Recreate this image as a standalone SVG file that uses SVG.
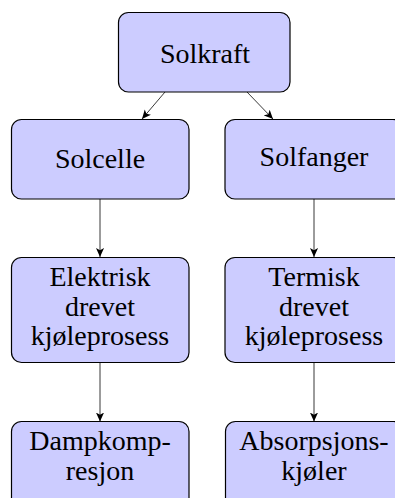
<svg xmlns="http://www.w3.org/2000/svg" width="395" height="498" viewBox="0 0 395 498" font-family="Liberation Serif" font-size="28">
<style>
.box{fill:#ccccff;stroke:#000;stroke-width:1.2}
.t{fill:#000;text-anchor:middle}
.c{stroke:#222;stroke-width:0.9;fill:none;marker-end:url(#ah)}
</style>
<defs>
<marker id="ah" viewBox="0 0 10 10" refX="10" refY="5" markerWidth="9" markerHeight="9" markerUnits="userSpaceOnUse" orient="auto">
<path d="M0,0.5 L10,5 L0,9.5 L2.5,5 Z" fill="#000"/>
</marker>
</defs>
<g id="connectors">
<line class="c" x1="165" y1="92" x2="142" y2="119"/>
<line class="c" x1="247" y1="92" x2="273" y2="119"/>
<line class="c" x1="100" y1="199" x2="100" y2="257"/>
<line class="c" x1="314" y1="199" x2="314" y2="257"/>
<line class="c" x1="100" y1="363" x2="100" y2="421.5"/>
<line class="c" x1="314" y1="363" x2="314" y2="421.5"/>
</g>
<g id="solkraft">
<rect class="box" x="118.5" y="12.5" width="171.5" height="79.5" rx="10"/>
<text class="t" font-family="Liberation Serif" x="205" y="62.5">Solkraft</text>
</g>
<g id="solcelle">
<rect class="box" x="11.5" y="119.5" width="177.5" height="79.5" rx="10"/>
<text class="t" font-family="Liberation Serif" x="100" y="168">Solcelle</text>
</g>
<g id="solfanger">
<rect class="box" x="225" y="119.5" width="178" height="79.5" rx="10"/>
<text class="t" font-family="Liberation Serif" x="314" y="166">Solfanger</text>
</g>
<g id="elektrisk">
<rect class="box" x="11.5" y="257.5" width="177.5" height="105" rx="10"/>
<text class="t" font-family="Liberation Serif" x="100" y="286"><tspan x="100" y="286">Elektrisk</tspan><tspan x="100" y="316">drevet</tspan><tspan x="100" y="345">kjøleprosess</tspan></text>
</g>
<g id="termisk">
<rect class="box" x="225" y="257.5" width="178" height="105" rx="10"/>
<text class="t" font-family="Liberation Serif" x="314" y="286"><tspan x="314" y="286">Termisk</tspan><tspan x="314" y="316">drevet</tspan><tspan x="314" y="345">kjøleprosess</tspan></text>
</g>
<g id="dampkompresjon">
<rect class="box" x="11.5" y="421.5" width="177.5" height="100" rx="10"/>
<text class="t" font-family="Liberation Serif" x="100" y="450"><tspan x="100" y="450">Dampkomp-</tspan><tspan x="100" y="480">resjon</tspan></text>
</g>
<g id="absorpsjon">
<rect class="box" x="225.5" y="421.5" width="178" height="100" rx="10"/>
<text class="t" font-family="Liberation Serif" x="314" y="450"><tspan x="314" y="450">Absorpsjons-</tspan><tspan x="314" y="480">kjøler</tspan></text>
</g>
</svg>
